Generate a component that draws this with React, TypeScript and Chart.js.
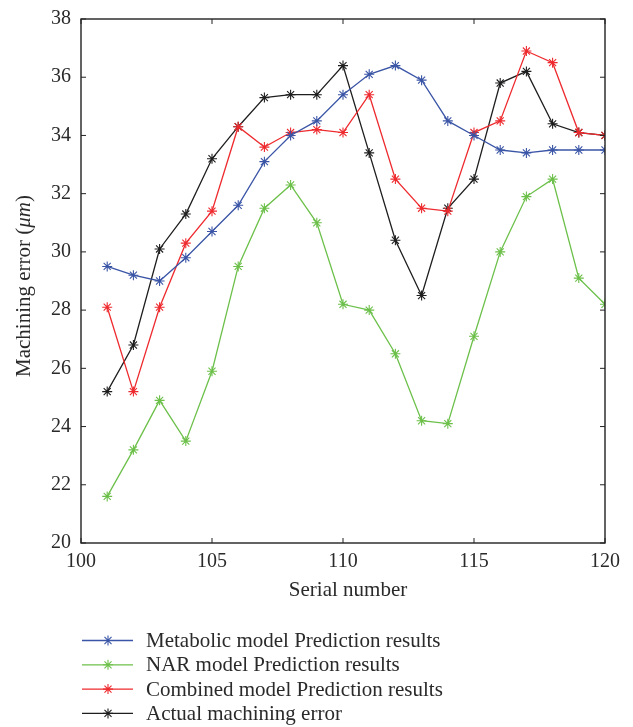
import React, { useEffect, useRef } from "react";
import { Chart, registerables } from "chart.js";

Chart.register(...registerables);

const serialNumbers = [101, 102, 103, 104, 105, 106, 107, 108, 109, 110, 111, 112, 113, 114, 115, 116, 117, 118, 119, 120];
const metabolicPred = [29.5, 29.2, 29.0, 29.8, 30.7, 31.6, 33.1, 34.0, 34.5, 35.4, 36.1, 36.4, 35.9, 34.5, 34.0, 33.5, 33.4, 33.5, 33.5, 33.5];
const narPred = [21.6, 23.2, 24.9, 23.5, 25.9, 29.5, 31.5, 32.3, 31.0, 28.2, 28.0, 26.5, 24.2, 24.1, 27.1, 30.0, 31.9, 32.5, 29.1, 28.2];
const combinedPred = [28.1, 25.2, 28.1, 30.3, 31.4, 34.3, 33.6, 34.1, 34.2, 34.1, 35.4, 32.5, 31.5, 31.4, 34.1, 34.5, 36.9, 36.5, 34.1, 34.0];
const actualError = [25.2, 26.8, 30.1, 31.3, 33.2, 34.3, 35.3, 35.4, 35.4, 36.4, 33.4, 30.4, 28.5, 31.5, 32.5, 35.8, 36.2, 34.4, 34.1, 34.0];

const seriesLabels = [
  "Metabolic model Prediction results",
  "NAR model Prediction results",
  "Combined model Prediction results",
  "Actual machining error",
];
const seriesColors = ["#3a55a6", "#6cc04a", "#ee2a2e", "#1e1e1e"];
const xTitle = "Serial number";
const yTitleMain = "Machining error (";
const yTitleUnit = "\u03bcm";
const yTitleEnd = ")";

const FONT = "'Liberation Serif', 'DejaVu Serif', serif";
const TEXT = "#2a2a2a";
const TEXT_SIZE = 21;
const TICK_SIZE = 20;

function drawStar(ctx: CanvasRenderingContext2D, x: number, y: number, r: number) {
  ctx.beginPath();
  for (let k = 0; k < 4; k++) {
    const a = (k * Math.PI) / 4;
    ctx.moveTo(x - r * Math.cos(a), y - r * Math.sin(a));
    ctx.lineTo(x + r * Math.cos(a), y + r * Math.sin(a));
  }
  ctx.stroke();
}

const framePlugin = {
  id: "matlabFrame",
  afterDraw(chart: any) {
    const { ctx, chartArea: a, scales } = chart;
    ctx.save();
    ctx.strokeStyle = "#222";
    ctx.lineWidth = 1.4;
    ctx.strokeRect(a.left, a.top, a.right - a.left, a.bottom - a.top);
    const L = 5;
    ctx.lineWidth = 1;
    ctx.beginPath();
    scales.x.ticks.forEach((t: any) => {
      const px = scales.x.getPixelForValue(t.value);
      ctx.moveTo(px, a.bottom);
      ctx.lineTo(px, a.bottom - L);
      ctx.moveTo(px, a.top);
      ctx.lineTo(px, a.top + L);
    });
    scales.y.ticks.forEach((t: any) => {
      const py = scales.y.getPixelForValue(t.value);
      ctx.moveTo(a.left, py);
      ctx.lineTo(a.left + L, py);
      ctx.moveTo(a.right, py);
      ctx.lineTo(a.right - L, py);
    });
    ctx.stroke();

    // axis titles
    ctx.fillStyle = TEXT;
    ctx.font = `${TEXT_SIZE}px ${FONT}`;
    ctx.textAlign = "center";
    ctx.textBaseline = "middle";
    ctx.fillText(xTitle, (a.left + a.right) / 2 + 5, 590);

    ctx.save();
    ctx.translate(24, 286);
    ctx.rotate(-Math.PI / 2);
    const fNorm = `${TEXT_SIZE}px ${FONT}`;
    const fIt = `italic ${TEXT_SIZE}px ${FONT}`;
    ctx.font = fNorm;
    const w1 = ctx.measureText(yTitleMain).width;
    const w3 = ctx.measureText(yTitleEnd).width;
    ctx.font = fIt;
    const w2 = ctx.measureText(yTitleUnit).width;
    let x0 = -(w1 + w2 + w3) / 2;
    ctx.textAlign = "left";
    ctx.font = fNorm;
    ctx.fillText(yTitleMain, x0, 0);
    x0 += w1;
    ctx.font = fIt;
    ctx.fillText(yTitleUnit, x0, 0);
    x0 += w2;
    ctx.font = fNorm;
    ctx.fillText(yTitleEnd, x0, 0);
    ctx.restore();

    // legend
    chart.data.datasets.forEach((ds: any, i: number) => {
      const y = 640.5 + i * 24.3;
      ctx.strokeStyle = ds.borderColor;
      ctx.lineWidth = 1.3;
      ctx.beginPath();
      ctx.moveTo(82, y);
      ctx.lineTo(133, y);
      ctx.stroke();
      ctx.lineWidth = 1.1;
      drawStar(ctx, 108, y, 5);
      ctx.fillStyle = TEXT;
      ctx.font = `${TEXT_SIZE}px ${FONT}`;
      ctx.textAlign = "left";
      ctx.textBaseline = "middle";
      ctx.fillText(ds.label, 146, y + 1);
    });
    ctx.restore();
  },
};

export default function App() {
  const ref = useRef<HTMLCanvasElement | null>(null);
  useEffect(() => {
    document.body.style.margin = "0";
    const series = [metabolicPred, narPred, combinedPred, actualError];
    const chart = new Chart(ref.current as HTMLCanvasElement, {
      type: "line",
      data: {
        datasets: series.map((vals, i) => ({
          label: seriesLabels[i],
          data: serialNumbers.map((x, j) => ({ x, y: vals[j] })),
          borderColor: seriesColors[i],
          backgroundColor: seriesColors[i],
          borderWidth: 1.3,
          pointStyle: "star",
          pointRadius: 5,
          pointBorderWidth: 1.1,
          pointBorderColor: seriesColors[i],
          tension: 0,
          fill: false,
        })),
      },
      options: {
        animation: false,
        responsive: false,
        events: [],
        layout: { padding: { top: 19, right: 28, left: 0, bottom: 0 } },
        plugins: { legend: { display: false }, tooltip: { enabled: false } },
        scales: {
          x: {
            type: "linear",
            min: 100,
            max: 120,
            ticks: { stepSize: 5, color: TEXT, font: { family: FONT, size: TICK_SIZE }, padding: 7, maxRotation: 0 },
            grid: { display: false, drawTicks: false },
            border: { display: false },
            afterFit: (s: any) => {
              s.height = 727 - 543;
              s.paddingLeft = 0;
              s.paddingRight = 0;
            },
          },
          y: {
            min: 20,
            max: 38,
            ticks: { stepSize: 2, color: TEXT, font: { family: FONT, size: TICK_SIZE }, padding: 10 },
            grid: { display: false, drawTicks: false },
            border: { display: false },
            afterFit: (s: any) => {
              s.width = 81;
              s.paddingTop = 0;
              s.paddingBottom = 0;
            },
          },
        },
      },
      plugins: [framePlugin],
    } as any);
    return () => chart.destroy();
  }, []);
  return <canvas ref={ref} width={633} height={727} style={{ display: "block" }} />;
}
